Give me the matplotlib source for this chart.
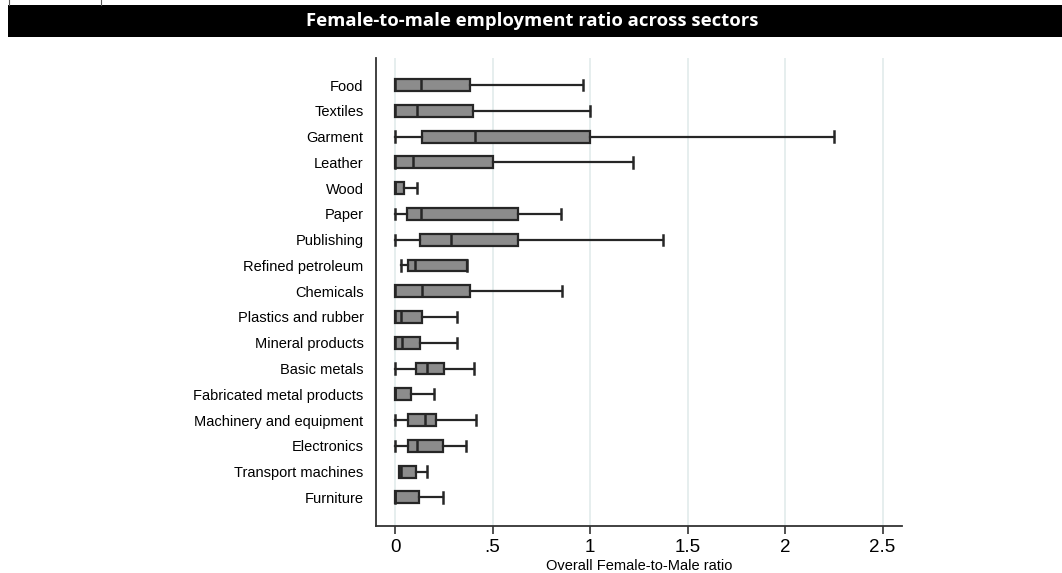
import matplotlib
matplotlib.use("Agg")
import matplotlib.pyplot as plt
from matplotlib.lines import Line2D
from matplotlib.patches import Rectangle

sectors = ["Food", "Textiles", "Garment", "Leather", "Wood", "Paper", "Publishing",
           "Refined petroleum", "Chemicals", "Plastics and rubber", "Mineral products",
           "Basic metals", "Fabricated metal products", "Machinery and equipment",
           "Electronics", "Transport machines", "Furniture"]
whislo = [0.0, 0.0, 0.0, 0.0, 0.0, 0.0, 0.0, 0.031, 0.0, 0.0, 0.0, 0.0, 0.0, 0.0, 0.0, 0.022, 0.0]
q1 = [0.0, 0.0, 0.137, 0.0, 0.0, 0.063, 0.127, 0.068, 0.0, 0.0, 0.0, 0.109, 0.0, 0.068, 0.068, 0.022, 0.0]
median = [0.132, 0.111, 0.409, 0.091, 0.0, 0.132, 0.286, 0.101, 0.137, 0.029, 0.038, 0.166, 0.0, 0.154, 0.111, 0.030, 0.0]
q3 = [0.385, 0.400, 0.998, 0.501, 0.046, 0.631, 0.631, 0.368, 0.385, 0.140, 0.130, 0.251, 0.084, 0.210, 0.246, 0.108, 0.125]
whishi = [0.962, 1.0, 2.253, 1.222, 0.111, 0.851, 1.376, 0.368, 0.856, 0.320, 0.320, 0.403, 0.202, 0.415, 0.366, 0.166, 0.248]
xticks = [0, 0.5, 1, 1.5, 2, 2.5]
xticklabels = ["0", ".5", "1", "1.5", "2", "2.5"]
title = "Female-to-male employment ratio across sectors"
xlabel = "Overall Female-to-Male ratio"

W, H = 1062, 573
fig = plt.figure(figsize=(W / 100, H / 100), dpi=100)
fig.patch.set_facecolor("white")

# header bar
fig.patches.append(Rectangle((8 / W, 1 - 37 / H), 1 - 8 / W, 32 / H,
                             transform=fig.transFigure, facecolor="black", edgecolor="none"))
fig.text(532 / W, 1 - 21 / H, title, color="white", ha="center", va="center",
         fontsize=13.3, fontweight="bold", family=["Open Sans", "DejaVu Sans"])
# small cut-off label box at top-left
for xp in (9, 101):
    fig.lines.append(Line2D([xp / W, xp / W], [1 - 5 / H, 1.0], transform=fig.transFigure,
                            color="#555555", lw=0.8))

left, right, top, bottom = 376, 902, 58, 526
ax = fig.add_axes([left / W, 1 - bottom / H, (right - left) / W, (bottom - top) / H])

stats = []
for i, name in enumerate(sectors):
    stats.append(dict(label=name, whislo=whislo[i], q1=q1[i], med=median[i],
                      q3=q3[i], whishi=whishi[i], fliers=[]))

edge = "#262626"
kw = dict(positions=list(range(len(sectors))), widths=0.46, patch_artist=True,
          showfliers=False,
          boxprops=dict(facecolor="#8c8c8c", edgecolor=edge, linewidth=1.6),
          medianprops=dict(color=edge, linewidth=1.8),
          whiskerprops=dict(color=edge, linewidth=1.6),
          capprops=dict(color=edge, linewidth=1.8))
try:
    ax.bxp(stats, orientation="horizontal", capwidths=0.4, **kw)
except TypeError:
    ax.bxp(stats, vert=False, capwidths=0.4, **kw)

ax.set_xlim(-0.0975, 2.6)
ax.set_ylim(17.11, -1.05)
ax.set_xticks(xticks)
ax.set_xticklabels(xticklabels, fontsize=13.5, family="Liberation Sans")
ax.set_yticks(list(range(len(sectors))))
ax.set_yticklabels(sectors, fontsize=10.5, family="Liberation Sans")
ax.tick_params(axis="y", length=0, pad=9)
ax.tick_params(axis="x", length=6, width=1.2, color="#333333", pad=3)
ax.set_xlabel(xlabel, fontsize=10.5, family="Liberation Sans")
ax.xaxis.set_label_coords(0.5, (526 - 559) / 468)
ax.xaxis.grid(True, color="#e2ebeb", linewidth=1.2)
ax.set_axisbelow(True)
for s in ("top", "right"):
    ax.spines[s].set_visible(False)
for s in ("left", "bottom"):
    ax.spines[s].set_color("#333333")
    ax.spines[s].set_linewidth(1.3)

fig.savefig("out.png", dpi=100)
